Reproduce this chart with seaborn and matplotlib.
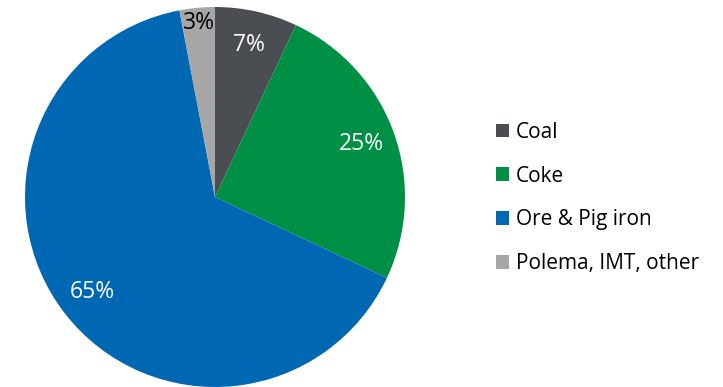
import numpy as np
import matplotlib.pyplot as plt
import seaborn as sns
from matplotlib.patches import Patch

# data
labels = ['Coal', 'Coke', 'Ore & Pig iron', 'Polema, IMT, other']
shares = [7, 25, 65, 3]
colors = ['#4a4d52', '#009045', '#0068b3', '#a6a6a6']
text_colors = ['white', 'white', 'white', 'black']

sns.set_theme(style="white")
plt.rcParams['font.family'] = ['Open Sans', 'DejaVu Sans']

fig = plt.figure(figsize=(7.23, 3.87), dpi=100)
# pie centre at (215, 197) px, radius ~190 px
cx, cy, r = 215, 197, 190
ax = fig.add_axes([(cx - r) / 723, (387 - cy - r) / 387, 2 * r / 723, 2 * r / 387])

wedges, texts, autotexts = ax.pie(
    shares, colors=colors, startangle=90, counterclock=False,
    autopct='%1.0f%%', pctdistance=0.82, radius=1,
    wedgeprops=dict(linewidth=0), textprops=dict(fontsize=16.5))
for t, c in zip(autotexts, text_colors):
    t.set_color(c)
# small slice label sits closer to the rim
x, y = autotexts[3].get_position()
autotexts[3].set_position((x * 1.12, y * 1.12))

ax.set_xlim(-1, 1)
ax.set_ylim(-1, 1)
ax.set_aspect('equal')
ax.axis('off')

handles = [Patch(facecolor=c, edgecolor='none') for c in colors]
fig.legend(handles, labels, loc='center left', bbox_to_anchor=(496 / 723, 1 - 198 / 387),
           frameon=False, fontsize=15, labelcolor='black', handlelength=0.62, handleheight=0.62,
           handletextpad=0.33, labelspacing=1.1, borderpad=0, borderaxespad=0)

fig.savefig('out.png', dpi=100)
